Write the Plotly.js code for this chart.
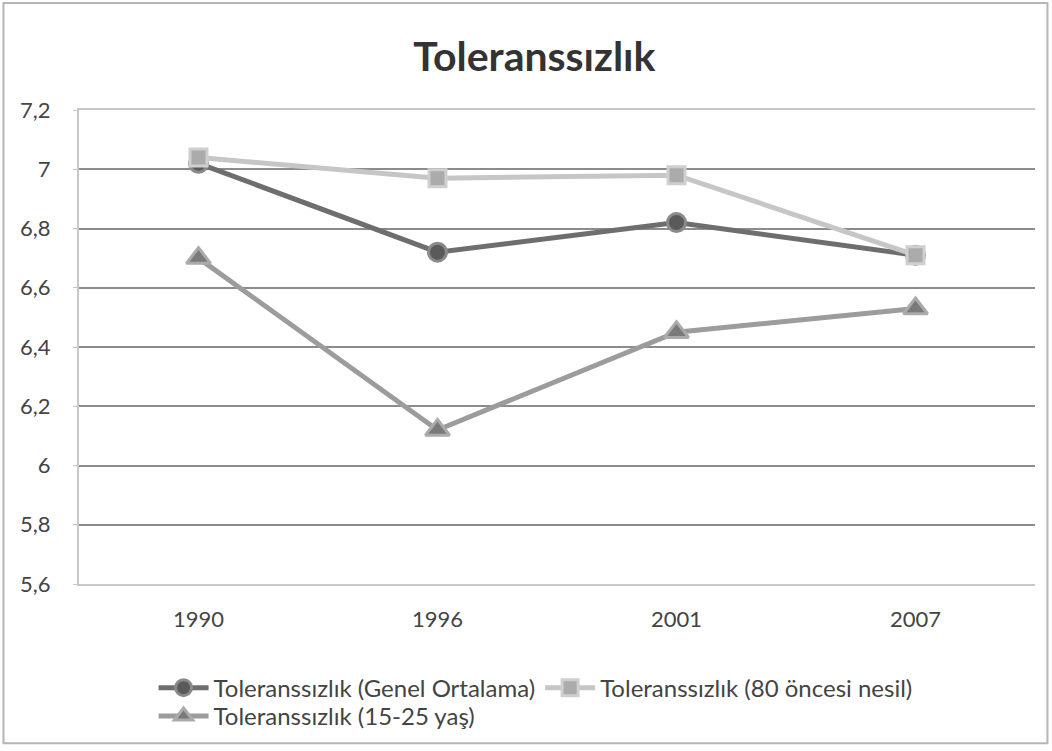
<!DOCTYPE html>
<html>
<head>
<meta charset="utf-8">
<script src="https://cdn.plot.ly/plotly-3.0.1.min.js"></script>
<style>
html,body{margin:0;padding:0;background:#fff;}
#chart{width:1052px;height:751px;}
</style>
</head>
<body>
<div id="chart"></div>
<script>
const years = ["1990", "1996", "2001", "2007"];
const genelOrtalama = [7.02, 6.72, 6.82, 6.71];
const oncesi80 = [7.04, 6.97, 6.98, 6.71];
const genc1525 = [6.70, 6.12, 6.45, 6.53];
const seriesNames = [
  "Toleranssızlık (Genel Ortalama)",
  "Toleranssızlık (80 öncesi nesil)",
  "Toleranssızlık (15-25 yaş)"
];
const yTicks = [5.6, 5.8, 6, 6.2, 6.4, 6.6, 6.8, 7, 7.2];
const yTickText = ["5,6", "5,8", "6", "6,2", "6,4", "6,6", "6,8", "7", "7,2"];

const font = "Lato, 'Open Sans', 'DejaVu Sans', sans-serif";

const traces = [
  {
    x: years, y: genelOrtalama, name: seriesNames[0], type: "scatter", mode: "lines+markers",
    legend: "legend",
    line: {color: "#6e6e6e", width: 5},
    marker: {symbol: "circle", size: 18, color: "#5a5a5a", line: {color: "#8a8a8a", width: 3}}
  },
  {
    x: years, y: oncesi80, name: seriesNames[1], type: "scatter", mode: "lines+markers",
    legend: "legend",
    line: {color: "#c6c6c6", width: 5},
    marker: {symbol: "square", size: 17, color: "#ababab", line: {color: "#cfcfcf", width: 3}}
  },
  {
    x: years, y: genc1525, name: seriesNames[2], type: "scatter", mode: "lines+markers",
    legend: "legend2",
    line: {color: "#9c9c9c", width: 5},
    marker: {symbol: "triangle-up", size: 21, color: "#7a7a7a", line: {color: "#ababab", width: 3}}
  }
];

const legendFont = {family: font, size: 24, color: "#444"};

const layout = {
  width: 1052, height: 751,
  paper_bgcolor: "#fff", plot_bgcolor: "#fff",
  margin: {l: 79, r: 17, t: 110, b: 163},
  title: {
    text: "<b>Toleranssızlık</b>",
    font: {family: font, size: 41, color: "#333"},
    x: 0.508, xanchor: "center", y: 0.925, yanchor: "middle"
  },
  xaxis: {
    type: "category",
    showgrid: false, zeroline: false,
    showline: true, mirror: true, linecolor: "#c8c8c8", linewidth: 2,
    ticks: "",
    ticklabelstandoff: 15,
    tickfont: {family: font, size: 22, color: "#444"},
    range: [-0.5, 3.5]
  },
  yaxis: {
    range: [5.6, 7.2],
    tickvals: yTicks, ticktext: yTickText,
    showgrid: true, gridcolor: "#8c8c8c", gridwidth: 2,
    zeroline: false,
    showline: true, linecolor: "#c8c8c8", linewidth: 2,
    ticks: "outside", ticklen: 4, tickcolor: "#c8c8c8",
    ticklabelstandoff: 18,
    tickfont: {family: font, size: 22, color: "#444"}
  },
  showlegend: true,
  legend: {
    orientation: "h",
    x: 0.078, xanchor: "left",
    y: -0.172, yanchor: "top",
    bgcolor: "rgba(0,0,0,0)",
    font: legendFont,
    itemwidth: 50,
    tracegroupgap: 0
  },
  legend2: {
    orientation: "h",
    x: 0.078, xanchor: "left",
    y: -0.232, yanchor: "top",
    bgcolor: "rgba(0,0,0,0)",
    font: legendFont,
    itemwidth: 50,
    tracegroupgap: 0
  },
  shapes: [
    {type: "rect", xref: "paper", yref: "paper", x0: -0.079, x1: 1.013, y0: -0.336, y1: 1.226,
     line: {color: "#b5b5b5", width: 2}, layer: "below"}
  ]
};

Plotly.newPlot("chart", traces, layout, {displayModeBar: false, staticPlot: true});
</script>
</body>
</html>
